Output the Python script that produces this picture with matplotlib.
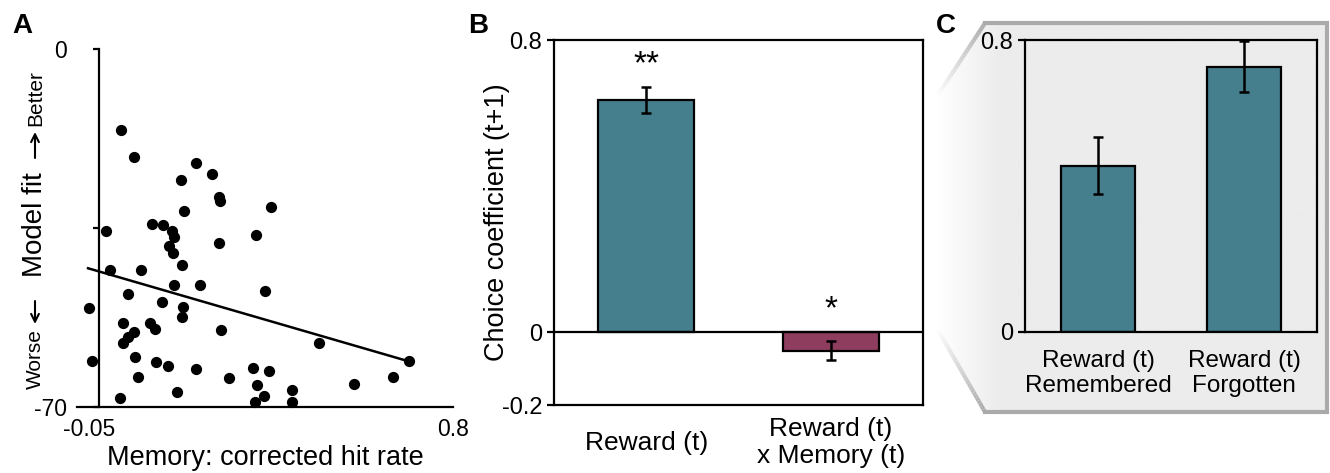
import numpy as np
import matplotlib
matplotlib.use("Agg")
from matplotlib import pyplot as plt
from matplotlib.patches import Polygon
from matplotlib.collections import LineCollection
from matplotlib.colors import LinearSegmentedColormap
from matplotlib.transforms import ScaledTranslation

plt.rcParams['font.family'] = ['Liberation Sans', 'DejaVu Sans']

# Panel A: memory vs model fit
memory = [0.050, 0.078, 0.219, 0.255, 0.184, 0.271, 0.273, 0.388, 0.193, 0.119,
          0.145, 0.165, 0.016, 0.169, 0.354, 0.272, 0.159, 0.168, 0.187, 0.025,
          0.095, 0.170, 0.227, 0.375, 0.065, 0.142, 0.190, -0.024, 0.187, 0.053,
          0.114, 0.126, 0.275, 0.079, 0.065, 0.054, 0.496, -0.017, 0.081, 0.129,
          0.155, 0.218, 0.348, 0.384, 0.701, 0.089, 0.294, 0.665, 0.357, 0.577,
          0.435, 0.176, 0.372, 0.047, 0.353, 0.435]
model_fit = [-15.8, -21.1, -22.3, -24.5, -25.6, -28.9, -29.8, -30.9, -31.7, -34.2,
             -34.5, -35.5, -35.5, -36.8, -36.3, -37.9, -38.6, -39.9, -42.2, -43.2,
             -43.2, -46.1, -46.2, -47.3, -48.0, -49.5, -50.4, -50.7, -52.4, -53.6,
             -53.6, -54.8, -55.0, -55.3, -56.3, -57.5, -57.4, -61.1, -60.2, -61.2,
             -61.9, -62.6, -62.3, -63.0, -61.1, -64.1, -64.4, -64.2, -65.7, -65.5,
             -66.6, -67.0, -67.9, -68.2, -69.1, -69.0]
fit_slope = -25.1
fit_intercept = -43.5
fit_range = [-0.025, 0.701]

# Panel B: choice coefficients
b_labels = ["Reward (t)", "Reward (t)\nx Memory (t)"]
b_values = [0.636, -0.052]
b_errors = [0.036, 0.026]
b_stars = ["**", "*"]

# Panel C: remembered vs forgotten
c_labels = ["Reward (t)\nRemembered", "Reward (t)\nForgotten"]
c_values = [0.456, 0.727]
c_errors = [0.079, 0.070]

teal = "#457e8c"
plum = "#8e3d5f"
W, H = 1330, 473

fig = plt.figure(figsize=(13.3, 4.73), dpi=100)

# background overlay in pixel coordinates (callout box for panel C)
bg = fig.add_axes([0, 0, 1, 1], zorder=0)
bg.set_xlim(0, W)
bg.set_ylim(H, 0)
bg.axis("off")
box = [(985, 23), (1327, 23), (1327, 412), (985, 412), (938, 330), (938, 95)]
poly = Polygon(box, closed=True, facecolor="none", edgecolor="none")
bg.add_patch(poly)
ramp = np.clip((np.linspace(938, 1327, 400) - 938) / 62.0, 0, 1)[None, :]
cmap = LinearSegmentedColormap.from_list("fade", ["#ffffff", "#ececec"])
im = bg.imshow(ramp, cmap=cmap, extent=[938, 1327, 412, 23], aspect="auto",
               vmin=0, vmax=1)
im.set_clip_path(poly)
bg.plot([985, 1327, 1327, 985], [23, 23, 412, 412], color="#aaaaaa", lw=3,
        solid_joinstyle="miter")
for (x0, y0), (x1, y1) in [((985, 23), (938, 95)), ((985, 412), (938, 330))]:
    t = np.linspace(0, 1, 30)
    xs = x0 + (x1 - x0) * t
    ys = y0 + (y1 - y0) * t
    segs = [[(xs[i], ys[i]), (xs[i + 1], ys[i + 1])] for i in range(len(t) - 1)]
    cols = [(0.67 + 0.33 * v, 0.67 + 0.33 * v, 0.67 + 0.33 * v) for v in t[:-1]]
    bg.add_collection(LineCollection(segs, colors=cols, linewidths=3))

# panel letters
for letter, x in [("A", 22), ("B", 478), ("C", 946)]:
    bg.text(x, 26, letter, fontsize=20, fontweight="bold", ha="center", va="center")

# y label of panel A, built from pieces
bg.text(35, 359, "Worse", rotation=90, fontsize=15, ha="center", va="center")
bg.text(35, 225, "Model fit", rotation=90, fontsize=20, ha="center", va="center")
bg.text(36, 98, "Better", rotation=90, fontsize=15, ha="center", va="center")
arrow = dict(arrowstyle="->", color="black", lw=1.5, mutation_scale=14,
             shrinkA=0, shrinkB=0)
bg.annotate("", xy=(35, 324), xytext=(35, 301), arrowprops=arrow)
bg.annotate("", xy=(35, 132), xytext=(35, 158), arrowprops=arrow)

# ---- Panel A ----
axA = fig.add_axes([77 / W, 1 - 407 / H, 376 / W, 358 / H], zorder=1)
axA.patch.set_visible(False)
axA.scatter(memory, model_fit, s=50, color="black", clip_on=False, zorder=3)
fx = np.array(fit_range)
axA.plot(fx, fit_slope * fx + fit_intercept, color="black", lw=1.8, clip_on=False)
axA.set_xlim(-0.05, 0.8)
axA.set_ylim(-70, 0)
axA.spines["top"].set_visible(False)
axA.spines["right"].set_visible(False)
axA.spines["left"].set_position(("data", 0))
for s in ["left", "bottom"]:
    axA.spines[s].set_linewidth(1.6)
axA.set_yticks([0, -35, -70])
axA.set_yticklabels(["0", "", "-70"])
axA.tick_params(axis="y", length=4, width=1.6, pad=19, labelsize=16.5)
axA.set_xticks([-0.05, 0.8])
axA.set_xticklabels(["-0.05", "0.8"])
axA.tick_params(axis="x", length=0, pad=8, labelsize=16.5)
lab = axA.get_xticklabels()[0]
lab.set_transform(lab.get_transform() + ScaledTranslation(0.12, 0, fig.dpi_scale_trans))
axA.set_xlabel("Memory: corrected hit rate", fontsize=19.5, labelpad=3)

# ---- Panel B ----
axB = fig.add_axes([554 / W, 1 - 405 / H, 369 / W, 365 / H], zorder=1)
xb = np.arange(len(b_values))
axB.bar(xb, b_values, width=0.52, color=[teal, plum], edgecolor="black", lw=1.6,
        zorder=2)
axB.errorbar(xb, b_values, yerr=b_errors, fmt="none", ecolor="black", elinewidth=1.8,
             capsize=3.5, capthick=1.8, zorder=3)
axB.axhline(0, color="black", lw=1.6, zorder=4)
for i, st in enumerate(b_stars):
    y = max(b_values[i] + b_errors[i], 0) + 0.06
    axB.text(xb[i], y, st, fontsize=24, ha="center", va="center")
axB.set_xlim(-0.5, 1.5)
axB.set_ylim(-0.2, 0.8)
axB.set_yticks([-0.2, 0, 0.8])
axB.set_yticklabels(["-0.2", "0", "0.8"])
axB.tick_params(axis="y", length=5, width=1.6, labelsize=17)
axB.set_xticks(xb)
axB.set_xticklabels(b_labels, fontsize=19)
axB.tick_params(axis="x", length=0, pad=27)
for t in axB.get_xticklabels():
    t.set_va("center")
for s in axB.spines.values():
    s.set_linewidth(1.6)
axB.set_ylabel("Choice coefficient (t+1)", fontsize=19.5, labelpad=-6)

# ---- Panel C ----
axC = fig.add_axes([1025 / W, 1 - 332 / H, 292 / W, 292 / H], zorder=2)
axC.patch.set_visible(False)
xc = np.arange(len(c_values))
axC.bar(xc, c_values, width=0.51, color=teal, edgecolor="black", lw=1.6, zorder=2)
axC.errorbar(xc, c_values, yerr=c_errors, fmt="none", ecolor="black", elinewidth=1.8,
             capsize=3.5, capthick=1.8, zorder=3)
axC.set_xlim(-0.5, 1.5)
axC.set_ylim(0, 0.8)
axC.set_yticks([0, 0.8])
axC.set_yticklabels(["0", "0.8"])
axC.tick_params(axis="y", length=5, width=1.6, labelsize=17)
axC.set_xticks(xc)
axC.set_xticklabels(c_labels, fontsize=17.5)
axC.tick_params(axis="x", length=0, pad=30)
for t in axC.get_xticklabels():
    t.set_va("center")
for s in axC.spines.values():
    s.set_linewidth(1.6)

fig.savefig("out.png", dpi=100)
